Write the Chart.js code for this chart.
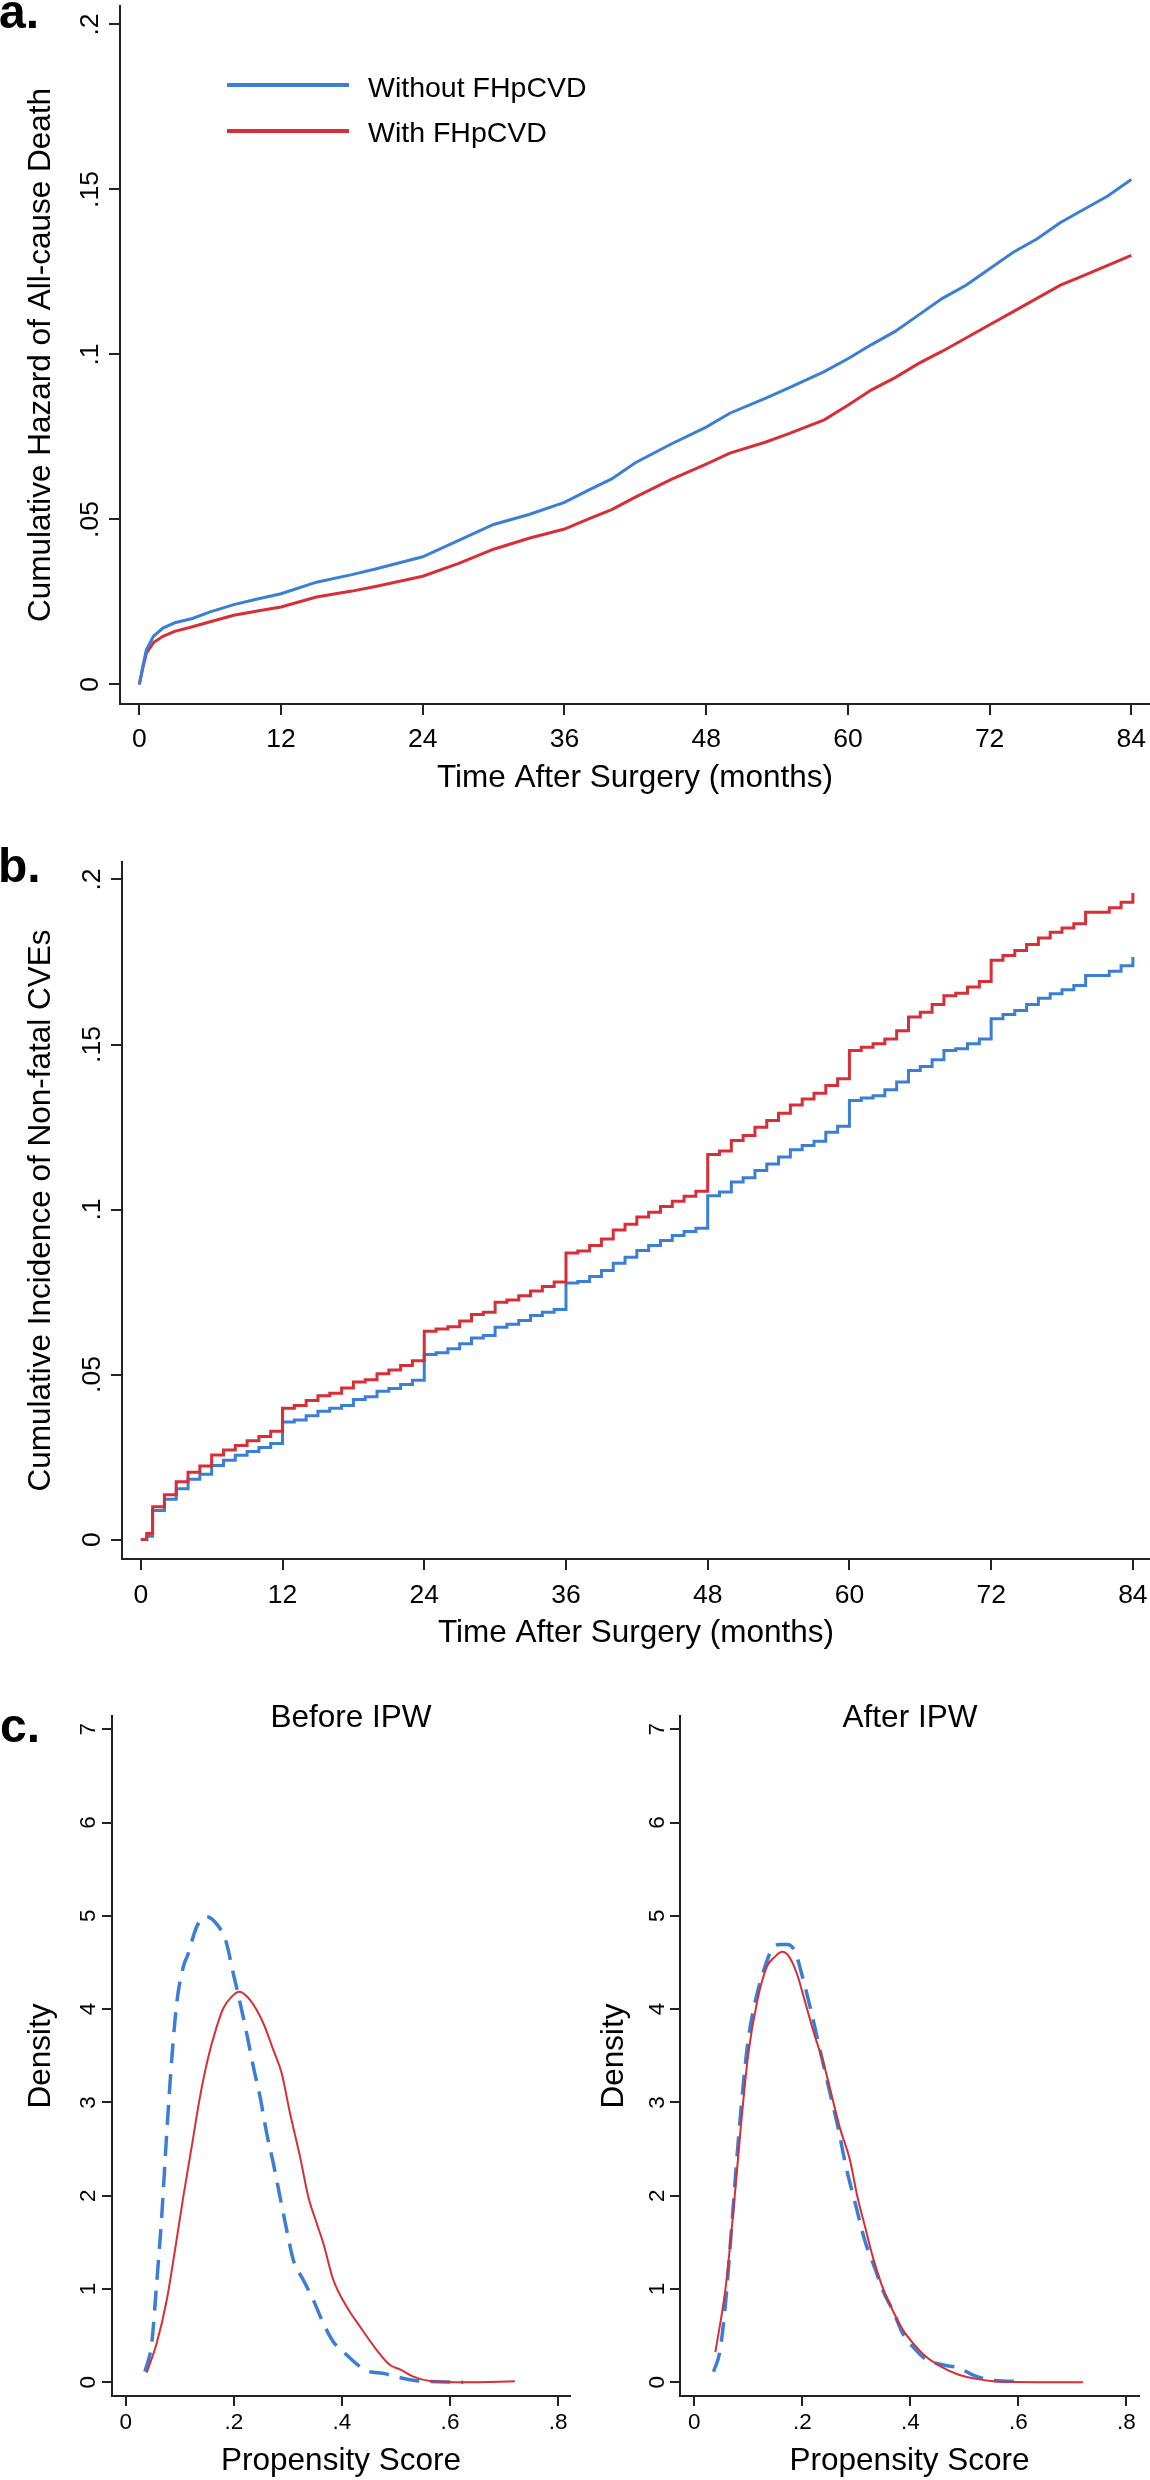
<!DOCTYPE html>
<html>
<head>
<meta charset="utf-8">
<title>FHpCVD outcomes</title>
<script src="https://cdn.jsdelivr.net/npm/chart.js@4.4.1/dist/chart.umd.min.js"></script>
<style>
  body { margin: 0; background: #fff; }
  #fig { position: relative; width: 1150px; height: 2480px; overflow: hidden;
         font-family: 'Liberation Sans', Arial, sans-serif; color: #000; }
  #fig canvas, .txt, .key { position: absolute; }
  .txt { line-height: 1; white-space: nowrap; }
  .panel { font-size: 48px; font-weight: bold; }
  .legend { font-size: 28.5px; left: 368px; }
  .sub { font-size: 31.5px; width: 400px; text-align: center; }
  .key { left: 227px; width: 122px; height: 4px; }
</style>
</head>
<body>
<div id="fig">
  <canvas id="chartA" width="1150" height="820" style="left:0;top:0"></canvas>
  <canvas id="chartB" width="1150" height="840" style="left:0;top:840px"></canvas>
  <canvas id="chartC1" width="575" height="820" style="left:0;top:1660px"></canvas>
  <canvas id="chartC2" width="575" height="820" style="left:575px;top:1660px"></canvas>

  <div class="txt panel" style="left:-1px;top:-12px">a.</div>
  <div class="txt panel" style="left:-2px;top:842px">b.</div>
  <div class="txt panel" style="left:0;top:1702px">c.</div>

  <!-- legend of panel a -->
  <div class="key" style="top:83px;background:#3a7fd5"></div>
  <div class="key" style="top:129px;background:#d62f37"></div>
  <div class="txt legend" style="top:73px">Without FHpCVD</div>
  <div class="txt legend" style="top:118px">With FHpCVD</div>

  <div class="txt sub" style="left:151px;top:1701px">Before IPW</div>
  <div class="txt sub" style="left:710px;top:1701px">After IPW</div>
</div>

<script>
// ---- panel a: cumulative hazard of all-cause death ----
const monthsA = [0, 0.3, 0.6, 1.2, 2, 3, 4.5, 6, 8, 10, 12, 15, 18, 20, 24, 27, 30, 33, 36, 38,
  40, 42, 45, 48, 50, 53, 55, 58, 60, 62, 64, 66, 68, 70, 72, 74, 76, 78, 80, 82, 84];
const withoutA = [0, 0.0055, 0.0105, 0.0146, 0.0171, 0.0187, 0.02, 0.022, 0.0242, 0.0259,
  0.0275, 0.031, 0.0333, 0.035, 0.0387, 0.0436, 0.0485, 0.0515, 0.0552, 0.0588,
  0.0623, 0.0672, 0.0728, 0.078, 0.0822, 0.0867, 0.0899, 0.0948, 0.0987, 0.103,
  0.107, 0.112, 0.117, 0.121, 0.126, 0.131, 0.135, 0.14, 0.144, 0.148, 0.153];
const withA = [0, 0.005, 0.0095, 0.0127, 0.0146, 0.0161, 0.0175, 0.019, 0.021, 0.0223,
  0.0235, 0.0265, 0.0283, 0.0297, 0.0328, 0.0366, 0.041, 0.0443, 0.0471, 0.0501,
  0.053, 0.0568, 0.0621, 0.0668, 0.0701, 0.0734, 0.076, 0.0802, 0.0846, 0.0893,
  0.093, 0.0973, 0.101, 0.105, 0.109, 0.113, 0.117, 0.121, 0.124, 0.127, 0.13];

// ---- panel b: cumulative incidence of non-fatal CVEs (steps) ----
const monthsB = [0, 0.5, 1, 2, 3, 4, 5, 6, 7, 8, 9, 10, 11, 12, 13, 14, 15, 16, 17, 18, 19, 20,
  21, 22, 23, 24, 25, 26, 27, 28, 29, 30, 31, 32, 33, 34, 35, 36, 37, 38, 39, 40, 41, 42,
  43, 44, 45, 46, 47, 48, 49, 50, 51, 52, 53, 54, 55, 56, 57, 58, 59, 60, 61, 62, 63, 64,
  65, 66, 67, 68, 69, 70, 71, 72, 73, 74, 75, 76, 77, 78, 79, 80, 81, 82, 83, 84];
const withoutB = [0, 0.001,
  0.0088, 0.0122, 0.0154, 0.0183, 0.0198, 0.0224, 0.024, 0.0255, 0.0267, 0.0279, 0.0291,
  0.0356, 0.0362, 0.0375, 0.0389, 0.0398, 0.0406, 0.0424, 0.0433, 0.0449, 0.0458, 0.047, 0.0483,
  0.0561, 0.0566, 0.0578, 0.0593, 0.0611, 0.0618, 0.0643, 0.0652, 0.0664, 0.0679, 0.0689, 0.0697,
  0.0777, 0.0782, 0.0797, 0.0815, 0.0837, 0.0855, 0.0876, 0.0891, 0.0906, 0.0921, 0.0933, 0.0943,
  0.1042, 0.1053, 0.1083, 0.1096, 0.1118, 0.1138, 0.1159, 0.1181, 0.1194, 0.1207, 0.1234, 0.1252,
  0.133, 0.1338, 0.1345, 0.1363, 0.1386, 0.1421, 0.1433, 0.1454, 0.1482, 0.1487, 0.1502, 0.1517,
  0.1578, 0.1591, 0.1603, 0.1621, 0.164, 0.1654, 0.1666, 0.1679, 0.1709, 0.1709, 0.1722, 0.1739, 0.1765];
const withB = [0, 0.0018,
  0.0099, 0.0136, 0.0175, 0.0204, 0.0223, 0.0256, 0.0271, 0.0285, 0.0299, 0.0312, 0.0328,
  0.0398, 0.0406, 0.0421, 0.0436, 0.0443, 0.0459, 0.0477, 0.0484, 0.0502, 0.0514, 0.0527, 0.0542,
  0.0631, 0.0638, 0.0645, 0.0662, 0.0682, 0.0689, 0.0719, 0.0726, 0.0739, 0.0753, 0.0767, 0.078,
  0.0868, 0.0874, 0.0891, 0.0911, 0.0938, 0.0955, 0.0977, 0.0992, 0.1009, 0.1025, 0.104, 0.1055,
  0.1167, 0.1177, 0.1209, 0.1224, 0.1249, 0.127, 0.1292, 0.1317, 0.1335, 0.1352, 0.1376, 0.1396,
  0.1482, 0.1492, 0.1502, 0.1517, 0.1542, 0.1583, 0.1598, 0.1621, 0.1648, 0.1655, 0.1674, 0.1691,
  0.1755, 0.177, 0.1785, 0.1803, 0.1823, 0.184, 0.1853, 0.1866, 0.1901, 0.1901, 0.1914, 0.1931, 0.1959];

// ---- panel c: propensity score densities ----
const beforeWithoutX = [0.0357, 0.0481, 0.0573, 0.0666, 0.0759, 0.0851, 0.0944, 0.1066, 0.1144, 0.1321,
  0.1498, 0.171, 0.1852, 0.1993, 0.2135, 0.2238, 0.2361, 0.2485, 0.2609, 0.2731,
  0.2855, 0.2979, 0.3101, 0.3286, 0.3471, 0.3656, 0.3841, 0.4089, 0.4459, 0.4766,
  0.5075, 0.5384, 0.6246];
const beforeWithoutY = [0.114, 0.418, 1.061, 1.776, 2.669, 3.455, 4.062, 4.455, 4.575, 4.892,
  4.991, 4.892, 4.733, 4.376, 4.019, 3.741, 3.383, 3.061, 2.669, 2.347,
  1.989, 1.632, 1.311, 1.097, 0.882, 0.632, 0.435, 0.293, 0.124, 0.096,
  0.049, 0.017, 0];
const beforeWithX = [0.0388, 0.0573, 0.0759, 0.0912, 0.1066, 0.1221, 0.1375, 0.1529, 0.1683, 0.1806,
  0.1961, 0.2102, 0.23, 0.2546, 0.2731, 0.2886, 0.304, 0.3225, 0.3378, 0.3534,
  0.3656, 0.3841, 0.4089, 0.4335, 0.4644, 0.489, 0.5075, 0.5321, 0.563, 0.63, 0.72];
const beforeWithY = [0.103, 0.418, 0.882, 1.418, 1.99, 2.526, 3.062, 3.49, 3.81, 4.009,
  4.134, 4.187, 4.098, 3.848, 3.562, 3.312, 2.883, 2.419, 1.99, 1.704,
  1.49, 1.097, 0.811, 0.597, 0.346, 0.185, 0.139, 0.061, 0.014, 0, 0.01];
const afterWithoutX = [0.0356, 0.0474, 0.0578, 0.0683, 0.0787, 0.0893, 0.0996, 0.1135, 0.1309, 0.145,
  0.1589, 0.1728, 0.1867, 0.2007, 0.2146, 0.232, 0.2494, 0.2669, 0.2807, 0.2981,
  0.3156, 0.333, 0.3504, 0.368, 0.3854, 0.4063, 0.4271, 0.455, 0.4898, 0.5176,
  0.5526, 0.6117];
const afterWithoutY = [0.114, 0.333, 0.847, 1.6, 2.393, 3.107, 3.663, 4.099, 4.456, 4.654,
  4.693, 4.693, 4.614, 4.337, 4.019, 3.583, 3.147, 2.711, 2.314, 1.918,
  1.522, 1.244, 0.967, 0.767, 0.53, 0.371, 0.253, 0.193, 0.153, 0.074,
  0.021, 0.01];
const afterWithX = [0.039, 0.0578, 0.0718, 0.0857, 0.0996, 0.117, 0.1344, 0.1483, 0.1624, 0.1763,
  0.1902, 0.2041, 0.2216, 0.2391, 0.253, 0.2704, 0.2878, 0.3017, 0.3156, 0.3296,
  0.347, 0.3644, 0.3854, 0.4063, 0.4271, 0.455, 0.4898, 0.5246, 0.5665, 0.72];
const afterWithY = [0.324, 1.006, 1.8, 2.711, 3.505, 4.099, 4.456, 4.555, 4.614, 4.555,
  4.376, 4.099, 3.742, 3.425, 3.107, 2.711, 2.393, 1.997, 1.68, 1.363,
  1.045, 0.807, 0.57, 0.411, 0.284, 0.174, 0.081, 0.034, 0.006, 0];

// tick values and labels
const monthTicks = [0, 12, 24, 36, 48, 60, 72, 84];
const monthLabels = ["0", "12", "24", "36", "48", "60", "72", "84"];
const riskTicks = [0, 0.05, 0.1, 0.15, 0.2];
const riskLabels = ["0", ".05", ".1", ".15", ".2"];
const scoreTicks = [0, 0.2, 0.4, 0.6, 0.8];
const scoreLabels = ["0", ".2", ".4", ".6", ".8"];
const densityTicks = [0, 1, 2, 3, 4, 5, 6, 7];
const densityLabels = ["0", "1", "2", "3", "4", "5", "6", "7"];

const FONT = "'Liberation Sans', Arial, sans-serif";
const BLUE = "#3a7fd5";
const RED = "#d62f37";
const AXIS = "#222";

Chart.defaults.font.family = FONT;
Chart.defaults.color = "#000";

const pts = (xs, ys) => xs.map((x, i) => ({ x: x, y: ys[i] }));

const fixedTicks = (values) => (scale) => {
  scale.ticks = values.map((v) => ({ value: v }));
};

// pin the scale box so the plot area lands where the original has it
const fixSize = (prop, px) => (scale) => {
  scale[prop] = px;
  scale.paddingLeft = 0;
  scale.paddingRight = 0;
  scale.paddingTop = 0;
  scale.paddingBottom = 0;
};

// Stata writes the y tick labels turned 90 degrees
const rotatedYLabels = {
  id: "rotatedYLabels",
  afterDraw(chart, args, opts) {
    const scale = chart.scales.y;
    const ctx = chart.ctx;
    ctx.save();
    ctx.font = opts.size + "px " + FONT;
    ctx.fillStyle = "#000";
    ctx.textAlign = "center";
    ctx.textBaseline = "alphabetic";
    scale.ticks.forEach((t, i) => {
      ctx.save();
      ctx.translate(scale.right - opts.gap, scale.getPixelForValue(t.value));
      ctx.rotate(-Math.PI / 2);
      ctx.fillText(opts.labels[i], 0, 0);
      ctx.restore();
    });
    ctx.restore();
  },
};

function makeChart(id, datasets, c) {
  const grid = {
    display: true,
    drawOnChartArea: false,
    drawTicks: true,
    tickLength: c.tickLen,
    color: AXIS,
    lineWidth: 2,
  };
  return new Chart(document.getElementById(id), {
    type: "line",
    data: { datasets: datasets },
    plugins: [rotatedYLabels],
    options: {
      responsive: false,
      animation: false,
      devicePixelRatio: 1,
      layout: { padding: { top: c.padTop, right: c.padRight, left: 0, bottom: 0 } },
      elements: { point: { radius: 0 }, line: { tension: 0 } },
      plugins: {
        legend: { display: false },
        tooltip: { enabled: false },
        rotatedYLabels: { labels: c.yLabels, size: c.tickSize, gap: c.yGap },
      },
      scales: {
        x: {
          type: "linear",
          min: c.xMin,
          max: c.xMax,
          afterBuildTicks: fixedTicks(c.xTicks),
          afterFit: fixSize("height", c.xHeight),
          grid: grid,
          border: { display: true, color: AXIS, width: 2 },
          ticks: {
            font: { size: c.tickSize, lineHeight: 1 },
            padding: c.xPad,
            maxRotation: 0,
            autoSkip: false,
            callback: (v, i) => c.xLabels[i],
          },
          title: {
            display: true,
            text: c.xTitle,
            font: { size: 31.5, lineHeight: 1 },
            padding: { top: 0, bottom: c.xTitlePad },
          },
        },
        y: {
          type: "linear",
          min: c.yMin,
          max: c.yMax,
          afterBuildTicks: fixedTicks(c.yTicks),
          afterFit: fixSize("width", c.yWidth),
          grid: grid,
          border: { display: true, color: AXIS, width: 2 },
          ticks: { display: false },
          title: {
            display: true,
            text: c.yTitle,
            font: { size: 31.5, lineHeight: 1 },
            padding: { top: c.yTitlePad, bottom: 0 },
          },
        },
      },
    },
  });
}

const timeAxis = {
  xTicks: monthTicks, xLabels: monthLabels,
  yTicks: riskTicks, yLabels: riskLabels,
  tickLen: 11, tickSize: 26.5, yTitlePad: 26,
  xTitle: "Time After Surgery (months)",
};

makeChart("chartA", [
  { data: pts(monthsA, withoutA), borderColor: BLUE, borderWidth: 3 },
  { data: pts(monthsA, withA), borderColor: RED, borderWidth: 3 },
], Object.assign({}, timeAxis, {
  padTop: 6, padRight: 0, xHeight: 116, yWidth: 120,
  xMin: -1.634, xMax: 85.58, yMin: -0.00591, yMax: 0.2056,
  xPad: 11.5, xTitlePad: 26, yGap: 22,
  yTitle: "Cumulative Hazard of All-cause Death",
}));

makeChart("chartB", [
  { data: pts(monthsB, withB), borderColor: RED, borderWidth: 3, stepped: true },
  { data: pts(monthsB, withoutB), borderColor: BLUE, borderWidth: 3, stepped: true },
], Object.assign({}, timeAxis, {
  padTop: 22, padRight: 0, xHeight: 121, yWidth: 122,
  xMin: -1.592, xMax: 85.45, yMin: -0.0059, yMax: 0.2053,
  xPad: 12.75, xTitlePad: 31.25, yGap: 22.5,
  yTitle: "Cumulative Incidence of Non-fatal CVEs",
}));

const scoreAxis = {
  xTicks: scoreTicks, xLabels: scoreLabels,
  yTicks: densityTicks, yLabels: densityLabels,
  tickLen: 10, tickSize: 22.5,
  padTop: 56, xHeight: 84,
  yMin: -0.1468, yMax: 7.1415,
  xPad: 5.75, xTitlePad: 2.65,
  xTitle: "Propensity Score", yTitle: "Density",
};

const densitySets = (wx, wy, ox, oy) => [
  { data: pts(wx, wy), borderColor: RED, borderWidth: 2, cubicInterpolationMode: "monotone" },
  { data: pts(ox, oy), borderColor: BLUE, borderWidth: 3.5, borderDash: [20, 11],
    cubicInterpolationMode: "monotone" },
];

makeChart("chartC1", densitySets(beforeWithX, beforeWithY, beforeWithoutX, beforeWithoutY),
  Object.assign({}, scoreAxis, {
    padRight: 5, yWidth: 112, xMin: -0.02535, xMax: 0.822, yTitlePad: 26, yGap: 17,
  }));

makeChart("chartC2", densitySets(afterWithX, afterWithY, afterWithoutX, afterWithoutY),
  Object.assign({}, scoreAxis, {
    padRight: 11, yWidth: 105, xMin: -0.0265, xMax: 0.8235, yTitlePad: 24, yGap: 16.5,
  }));
</script>
</body>
</html>
